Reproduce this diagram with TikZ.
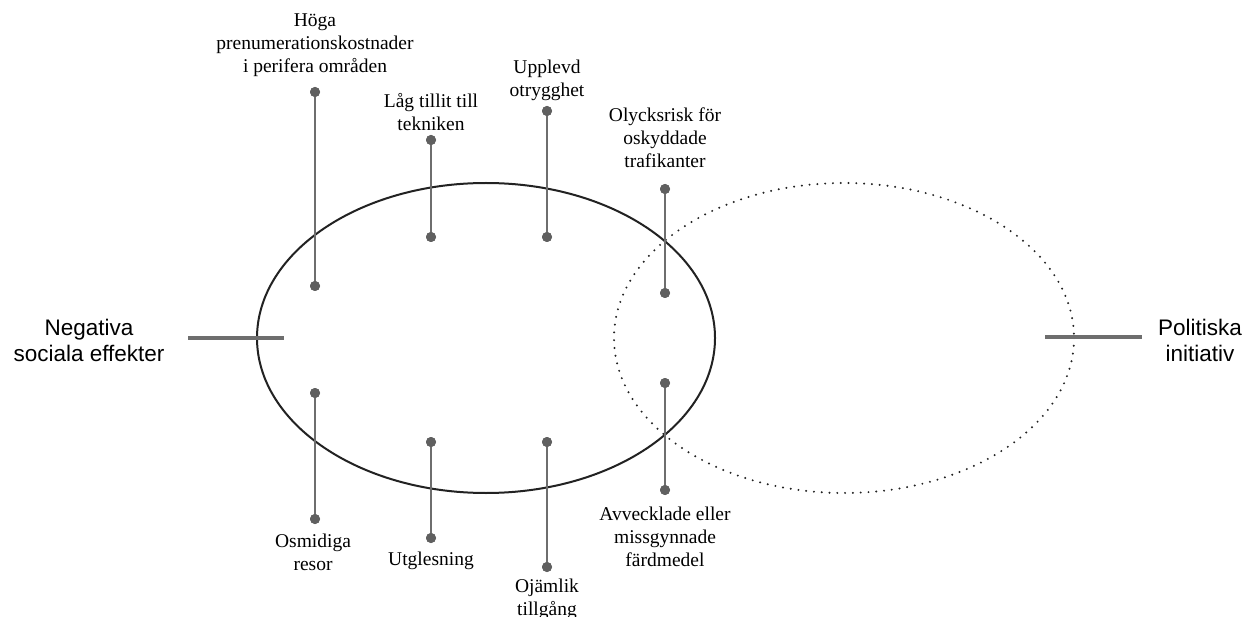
\documentclass[tikz,border=0pt]{standalone}
\usepackage{fontspec}
\setmainfont{Liberation Serif}
\newfontfamily\sidefont{Liberation Sans}
\definecolor{stem}{HTML}{6E6E6E}
\definecolor{dotc}{HTML}{606060}
\definecolor{ring}{HTML}{222222}
\begin{document}
\begin{tikzpicture}[x=1pt,y=-1pt,
  lbl/.style={align=center,inner sep=0pt,font=\fontsize{19.5}{23}\selectfont},
  side/.style={align=center,inner sep=0pt,font=\sidefont\fontsize{22.5}{26}\selectfont},
  pin/.style={circle,fill=dotc,inner sep=0pt,minimum size=10pt},
  stemline/.style={draw=stem,line width=2.8pt},
  bar/.style={draw=stem,line width=3pt},
  solidring/.style={draw=ring,line width=2pt},
  dotring/.style={draw=ring,line width=2.2pt,line cap=round,dash pattern=on 0pt off 7.8pt}]
\useasboundingbox (0,0) rectangle (1244,617);
\fill[white] (0,0) rectangle (1244,617);
% ellipses
\draw[solidring] (486,338) ellipse [x radius=229, y radius=155];
\draw[dotring] (844,338) ellipse [x radius=230, y radius=155];
% side labels and bars
\node[side] (neg) at (89,340) {Negativa\\sociala effekter};
\coordinate (negA) at (188,338);
\coordinate (negB) at (284,338);
\draw[bar] (negA) -- (negB);
\node[side] (pol) at (1200,340) {Politiska\\initiativ};
\coordinate (polA) at (1045,337);
\coordinate (polB) at (1142,337);
\draw[bar] (polA) -- (polB);
% stems (top row)
\node[pin] (a1) at (315,92) {};  \node[pin] (a2) at (315,286) {};
\node[pin] (b1) at (431,140) {}; \node[pin] (b2) at (431,237) {};
\node[pin] (c1) at (547,111) {}; \node[pin] (c2) at (547,237) {};
\node[pin] (d1) at (665,189) {}; \node[pin] (d2) at (665,293) {};
% stems (bottom row)
\node[pin] (e1) at (315,393) {}; \node[pin] (e2) at (315,519) {};
\node[pin] (f1) at (431,442) {}; \node[pin] (f2) at (431,538) {};
\node[pin] (g1) at (547,442) {}; \node[pin] (g2) at (547,567) {};
\node[pin] (h1) at (665,383) {}; \node[pin] (h2) at (665,490) {};
\foreach \p in {a,b,c,d,e,f,g,h}{\draw[stemline] (\p1.center) -- (\p2.center);}
\foreach \p in {a,b,c,d,e,f,g,h}{\node[pin] at (\p1) {}; \node[pin] at (\p2) {};}
% labels
\node[lbl] (la) at (315,45) {Höga\\prenumerationskostnader\\i perifera områden};
\node[lbl] (lb) at (431,112) {Låg tillit till\\tekniken};
\node[lbl] (lc) at (547,80) {Upplevd\\otrygghet};
\node[lbl] (ld) at (665,138) {Olycksrisk för\\oskyddade\\trafikanter};
\node[lbl] (le) at (313,552) {Osmidiga\\resor};
\node[lbl] (lf) at (431,561) {Utglesning};
\node[lbl] (lg) at (547,599) {Ojämlik\\tillgång};
\node[lbl] (lh) at (665,537) {Avvecklade eller\\missgynnade\\färdmedel};
\end{tikzpicture}
\end{document}
